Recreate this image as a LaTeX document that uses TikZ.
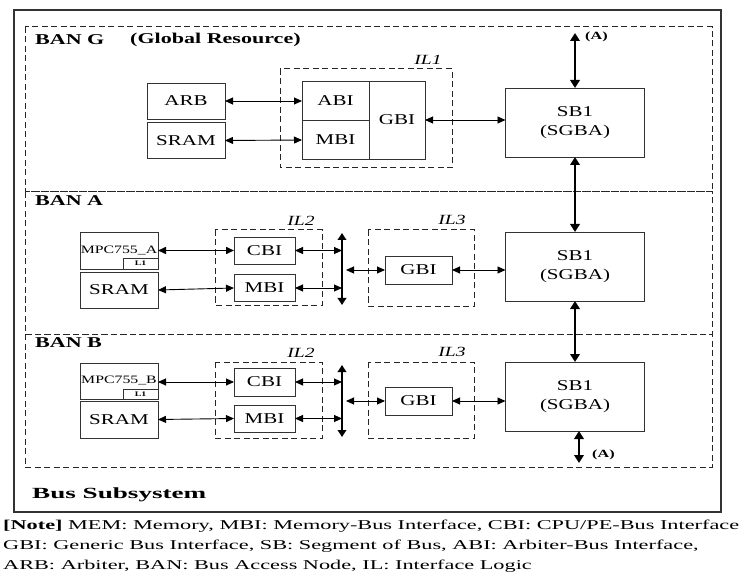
\documentclass[tikz,border=0pt]{standalone}
\usepackage{fontspec}
\setmainfont{Liberation Serif}
\newfontfamily\lblfont[FakeStretch=1.4]{Liberation Serif}
\newfontfamily\headfont[FakeStretch=1.47]{Liberation Serif}
\newfontfamily\titlefont[FakeStretch=1.75]{Liberation Serif}
\newfontfamily\notefont[FakeStretch=1.65]{Liberation Serif}
\usetikzlibrary{arrows.meta}
\begin{document}
\begin{tikzpicture}[x=1pt,y=-1pt,
  box/.style={draw=black!80, line width=0.9pt, inner sep=0pt, outer sep=0pt,
    align=center, font=\lblfont\fontsize{15}{19}\selectfont},
  banframe/.style={draw=black!85, line width=1pt, dash pattern=on 6pt off 3.5pt},
  ilframe/.style={draw=black!85, line width=1pt, dash pattern=on 6pt off 3.5pt},
  link/.style={{Triangle[length=8pt,width=7pt]}-{Triangle[length=8pt,width=7pt]}, line width=0.9pt},
  buslink/.style={{Triangle[length=8pt,width=9.5pt]}-{Triangle[length=8pt,width=9.5pt]}, line width=2.6pt},
  busbar/.style={{Triangle[length=7pt,width=8.5pt]}-{Triangle[length=7pt,width=8.5pt]}, line width=1.8pt},
  banlabel/.style={anchor=west, inner sep=0pt, font=\headfont\bfseries\fontsize{15}{18}\selectfont},
  illabel/.style={inner sep=0pt, font=\lblfont\itshape\fontsize{14}{16}\selectfont},
  alabel/.style={anchor=west, inner sep=0pt, font=\headfont\bfseries\fontsize{11}{13}\selectfont},
  cpulabel/.style={font=\lblfont\fontsize{11.3}{13}\selectfont, inner sep=0pt},
  notelabel/.style={anchor=west, inner sep=0pt, font=\notefont\fontsize{13.5}{16}\selectfont}
]
\useasboundingbox (0,0) rectangle (744,577);

% outer solid frame
\draw[draw=black!80, line width=1.3pt] (14,10) rectangle (721,512);

% BAN frames
\draw[banframe] (25,27) rectangle (712,192);
\draw[banframe] (25,192) rectangle (712,334);
\draw[banframe] (25,334) rectangle (712,467);

\node[banlabel] (bang) at (35,40) {BAN G};
\node[banlabel] (glob) at (130,40) {(Global Resource)};
\node[banlabel] (bana) at (35,201) {BAN A};
\node[banlabel] (banb) at (35,343) {BAN B};

% ---------- BAN G ----------
\draw[ilframe] (280,69) rectangle (452,168);
\node[illabel] (il1) at (428,60) {IL1};
\node[box, minimum width=78pt, minimum height=36pt] (arb) at (186,101) {ARB};
\node[box, minimum width=78pt, minimum height=36pt] (sramg) at (186,140.5) {SRAM};
\node[box, minimum width=67pt, minimum height=39pt] (abi) at (335.5,101) {ABI};
\node[box, minimum width=67pt, minimum height=39pt] (mbig) at (335.5,140) {MBI};
\node[box, minimum width=56pt, minimum height=78pt] (gbig) at (397,120) {GBI};
\node[box, minimum width=139pt, minimum height=69pt] (sbg) at (575,122.5) {SB1\\(SGBA)};

\draw[link] (arb.east) -- (abi.west);
\draw[link] (sramg.east) -- (mbig.west);
\draw[link] (gbig.east) -- (gbig.east -| sbg.west);
\coordinate (topa) at (575,33);
\draw[buslink] (sbg.north) -- (topa);
\node[alabel] (atop) at (585,37) {(A)};

% ---------- BAN A ----------
\draw[ilframe] (215,230) rectangle (322,305);
\node[illabel] (il2a) at (301,221) {IL2};
\draw[ilframe] (368,230) rectangle (474,306);
\node[illabel] (il3a) at (452,220) {IL3};

\node[box, minimum width=78pt, minimum height=37pt] (mpca) at (119,250.5) {};
\node[cpulabel] (mpcatext) at (119,250) {MPC755\_A};
\node[box, minimum width=35pt, minimum height=11pt, anchor=south east,
      font=\lblfont\bfseries\fontsize{7}{8}\selectfont] (l1a) at (mpca.south east) {L1};
\node[box, minimum width=78pt, minimum height=36pt] (srama) at (119,290) {SRAM};
\node[box, minimum width=61pt, minimum height=27pt] (cbia) at (264.5,250.5) {CBI};
\node[box, minimum width=61pt, minimum height=27pt] (mbia) at (264.5,288) {MBI};
\node[box, minimum width=67pt, minimum height=28pt] (gbia) at (418.5,270) {GBI};
\node[box, minimum width=139pt, minimum height=69pt] (sba) at (575,266.5) {SB1\\(SGBA)};

\draw[link, line width=1.5pt] (mpca.east) -- (cbia.west);
\draw[link] (srama.east) -- (mbia.west);
\coordinate (busat) at (342,233);
\coordinate (busab) at (342,305);
\draw[busbar] (busat) -- (busab);
\draw[link] (cbia.east) -- (cbia.east -| busat);
\draw[link] (mbia.east) -- (mbia.east -| busat);
\draw[link] (gbia.west -| 346,0) -- (gbia.west);
\draw[link] (gbia.east) -- (sba.west |- gbia.east);
\draw[buslink] (sbg.south) -- (sba.north);

% ---------- BAN B ----------
\draw[ilframe] (215,362) rectangle (322,438);
\node[illabel] (il2b) at (301,353) {IL2};
\draw[ilframe] (368,362) rectangle (474,438);
\node[illabel] (il3b) at (452,352) {IL3};

\node[box, minimum width=78pt, minimum height=36pt] (mpcb) at (119,381) {};
\node[cpulabel] (mpcbtext) at (119,380) {MPC755\_B};
\node[box, minimum width=35pt, minimum height=10pt, anchor=south east,
      font=\lblfont\bfseries\fontsize{7}{8}\selectfont] (l1b) at (mpcb.south east) {L1};
\node[box, minimum width=78pt, minimum height=37pt] (sramb) at (119,419.5) {SRAM};
\node[box, minimum width=61pt, minimum height=28pt] (cbib) at (264.5,382) {CBI};
\node[box, minimum width=61pt, minimum height=27pt] (mbib) at (264.5,418.5) {MBI};
\node[box, minimum width=67pt, minimum height=28pt] (gbib) at (418.5,401) {GBI};
\node[box, minimum width=139pt, minimum height=69pt] (sbb) at (575,396.5) {SB1\\(SGBA)};

\draw[link] (mpcb.east |- cbib.west) -- (cbib.west);
\draw[link] (sramb.east) -- (mbib.west);
\coordinate (busbt) at (342,365);
\coordinate (busbb) at (342,437);
\draw[busbar] (busbt) -- (busbb);
\draw[link] (cbib.east) -- (cbib.east -| busbt);
\draw[link] (mbib.east) -- (mbib.east -| busbt);
\draw[link] (gbib.west -| 346,0) -- (gbib.west);
\draw[link] (gbib.east) -- (sbb.west |- gbib.east);
\draw[buslink] (sba.south) -- (sbb.north);
\coordinate (bota) at (579,463);
\draw[buslink] (sbb.south -| bota) -- (bota);
\node[alabel] (abot) at (592,455) {(A)};

% ---------- caption and note ----------
\node[anchor=west, inner sep=0pt, font=\titlefont\bfseries\fontsize{15.5}{18}\selectfont] (title) at (32,495) {Bus Subsystem};
\node[notelabel] (note1) at (3,526) {{\bfseries [Note]} MEM: Memory, MBI: Memory-Bus Interface, CBI: CPU/PE-Bus Interface};
\node[notelabel] (note2) at (3,546) {GBI: Generic Bus Interface, SB: Segment of Bus, ABI: Arbiter-Bus Interface,};
\node[notelabel] (note3) at (3,566) {ARB: Arbiter, BAN: Bus Access Node, IL: Interface Logic};
\end{tikzpicture}
\end{document}
